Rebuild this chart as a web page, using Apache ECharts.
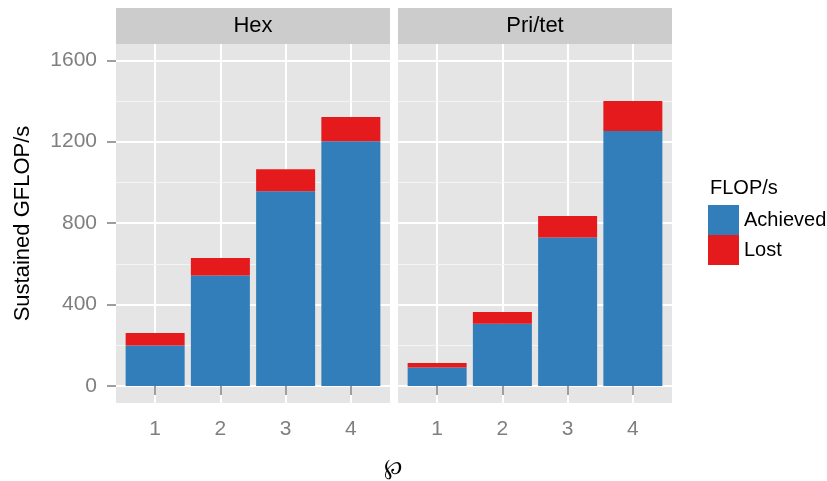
<!DOCTYPE html>
<html>
<head>
<meta charset="utf-8">
<script src="https://cdn.jsdelivr.net/npm/echarts@6/dist/echarts.min.js"></script>
<style>
  html, body { margin: 0; padding: 0; background: #fff; }
  #chart { width: 827px; height: 481px; }
</style>
</head>
<body>
<div id="chart"></div>
<script>
// facets and x categories (polynomial order)
const facets = ['Hex', 'Pri/tet']
const orders = [1, 2, 3, 4]
const seriesNames = ['Achieved', 'Lost']

// sustained GFLOP/s
const hexAchieved = [198, 543, 957, 1202]
const hexLost = [62, 85, 108, 119]
const pritetAchieved = [90, 306, 729, 1252]
const pritetLost = [23, 57, 106, 148]

const yTicks = [0, 400, 800, 1200, 1600]
const yMinor = [200, 600, 1000, 1400]

const colors = ['#327EBA', '#E41A1C']
const font = 'Liberation Sans, Arial, sans-serif'

const chart = echarts.init(document.getElementById('chart'))

const panels = [
  { left: 116, achieved: hexAchieved, lost: hexLost },
  { left: 398, achieved: pritetAchieved, lost: pritetLost }
]
const panelW = 274
const panelTop = 44
const panelH = 359

const grids = panels.map(p => ({
  left: p.left,
  top: panelTop,
  width: panelW,
  height: panelH,
  show: true,
  backgroundColor: '#E5E5E5',
  borderWidth: 0
}))

const xAxes = panels.map((p, i) => ({
  type: 'value',
  gridIndex: i,
  min: 0.4,
  max: 4.6,
  axisLine: { show: false },
  axisTick: { show: true, customValues: orders, length: 9, lineStyle: { color: '#7F7F7F', width: 1.5 } },
  axisLabel: { customValues: orders, color: '#7F7F7F', fontSize: 21, fontFamily: font, margin: 16 },
  splitLine: { show: true, lineStyle: { color: '#FFFFFF', width: 2 } }
}))

const yAxes = panels.map((p, i) => ({
  type: 'value',
  gridIndex: i,
  min: -84,
  max: 1680,
  axisLine: { show: false },
  axisTick: { show: i === 0, customValues: yTicks, length: 9, lineStyle: { color: '#7F7F7F', width: 1.5 } },
  axisLabel: {
    show: i === 0,
    customValues: yTicks,
    formatter: v => String(v),
    color: '#7F7F7F',
    fontSize: 21,
    fontFamily: font,
    margin: 19
  },
  splitLine: { show: true, lineStyle: { color: '#FFFFFF', width: 2 } },
  name: i === 0 ? 'Sustained GFLOP/s' : '',
  nameLocation: 'middle',
  nameGap: 82,
  nameTextStyle: { color: '#000', fontSize: 22, fontFamily: font }
}))

// value first so the stack runs on the y dimension
const series = []
panels.forEach((p, i) => {
  series.push({
    name: seriesNames[0],
    type: 'bar',
    xAxisIndex: i,
    yAxisIndex: i,
    stack: 'flops' + i,
    barWidth: 59,
    encode: { x: 1, y: 0 },
    itemStyle: { color: colors[0] },
    data: orders.map((o, k) => [p.achieved[k], o]),
    markLine: {
      silent: true,
      z: 1,
      symbol: ['none', 'none'],
      label: { show: false },
      lineStyle: { color: '#F4F4F4', width: 1.2, type: 'solid' },
      data: yMinor.map(v => ({ yAxis: v }))
    }
  })
  series.push({
    name: seriesNames[1],
    type: 'bar',
    xAxisIndex: i,
    yAxisIndex: i,
    stack: 'flops' + i,
    barWidth: 59,
    encode: { x: 1, y: 0 },
    itemStyle: { color: colors[1] },
    data: orders.map((o, k) => [p.lost[k], o])
  })
})

const stripGraphics = []
panels.forEach((p, i) => {
  stripGraphics.push({
    type: 'rect',
    shape: { x: p.left, y: 8, width: panelW, height: 36 },
    style: { fill: '#CCCCCC' }
  })
  stripGraphics.push({
    type: 'text',
    x: p.left + panelW / 2,
    y: 26,
    style: { text: facets[i], fill: '#000', font: '22px ' + font, textAlign: 'center', textVerticalAlign: 'middle' }
  })
})

const option = {
  animation: false,
  grid: grids,
  xAxis: xAxes,
  yAxis: yAxes,
  legend: {
    data: seriesNames,
    orient: 'vertical',
    left: 708,
    top: 205,
    padding: 0,
    itemWidth: 31,
    itemHeight: 30,
    itemGap: 0,
    icon: 'rect',
    textStyle: { color: '#000', fontSize: 20, fontFamily: font, padding: [2, 0, 0, 0] }
  },
  graphic: stripGraphics.concat([
    {
      type: 'text',
      x: 710,
      y: 188,
      style: { text: 'FLOP/s', fill: '#000', font: '20px ' + font, textVerticalAlign: 'middle' }
    },
    {
      type: 'text',
      x: 393,
      y: 468,
      style: { text: '℘', fill: '#000', font: '22px ' + font, textAlign: 'center', textVerticalAlign: 'middle' }
    }
  ]),
  series: series
}

chart.setOption(option)
</script>
</body>
</html>
